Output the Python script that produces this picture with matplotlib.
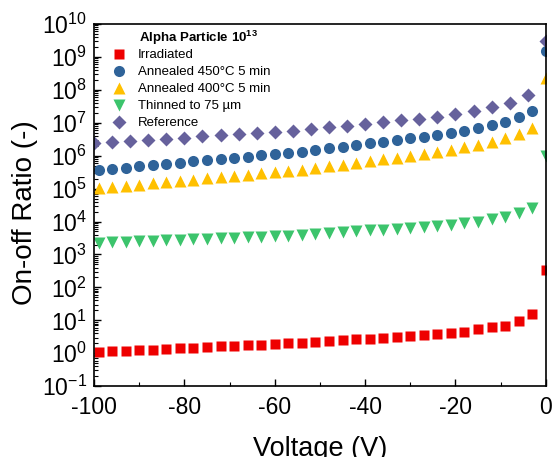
import matplotlib
matplotlib.use("Agg")
import matplotlib.pyplot as plt
from matplotlib.ticker import LogLocator, MultipleLocator, NullFormatter

plt.rcParams["font.family"] = ["Liberation Sans", "DejaVu Sans"]
plt.rcParams["mathtext.fontset"] = "custom"
plt.rcParams["mathtext.rm"] = "Liberation Sans"
plt.rcParams["mathtext.bf"] = "Liberation Sans:bold"
plt.rcParams["axes.unicode_minus"] = False

# voltages (V)
v_step3 = [-99, -96, -93, -90, -87, -84, -81, -78, -75, -72, -69, -66, -63, -60, -57,
           -54, -51, -48, -45, -42, -39, -36, -33, -30, -27, -24, -21, -18, -15, -12,
           -9, -6, -3, 0]
v_step4 = [-100, -96, -92, -88, -84, -80, -76, -72, -68, -64, -60, -56, -52, -48, -44,
           -40, -36, -32, -28, -24, -20, -16, -12, -8, -4, 0]

# on-off ratios
irradiated = [1.10, 1.15, 1.20, 1.26, 1.29, 1.35, 1.41, 1.48, 1.55, 1.62, 1.66, 1.74,
              1.82, 1.91, 2.00, 2.09, 2.19, 2.34, 2.45, 2.63, 2.75, 2.95, 3.09, 3.31,
              3.47, 3.72, 4.07, 4.57, 5.37, 6.17, 6.92, 9.55, 15.1, 339]
annealed_450 = [3.72e5, 4.07e5, 4.37e5, 4.79e5, 5.25e5, 5.62e5, 6.17e5, 6.76e5, 7.24e5,
                7.94e5, 8.71e5, 9.33e5, 1.02e6, 1.12e6, 1.20e6, 1.32e6, 1.48e6, 1.66e6,
                1.86e6, 2.09e6, 2.40e6, 2.69e6, 3.02e6, 3.39e6, 3.80e6, 4.27e6, 4.79e6,
                5.75e6, 7.08e6, 8.32e6, 1.05e7, 1.48e7, 2.29e7, 1.55e9]
annealed_400 = [1.02e5, 1.12e5, 1.20e5, 1.32e5, 1.45e5, 1.58e5, 1.70e5, 1.86e5, 2.04e5,
                2.24e5, 2.40e5, 2.63e5, 2.88e5, 3.16e5, 3.39e5, 3.72e5, 4.17e5, 4.79e5,
                5.37e5, 6.03e5, 6.92e5, 7.76e5, 8.71e5, 9.77e5, 1.12e6, 1.26e6, 1.48e6,
                1.78e6, 2.14e6, 2.57e6, 3.39e6, 4.57e6, 7.08e6, 2.24e8]
thinned = [2291, 2344, 2455, 2512, 2630, 2754, 2818, 2951, 3020, 3162, 3236, 3388, 3467,
           3631, 3715, 3890, 4169, 4365, 4677, 5012, 5370, 5623, 6026, 6457, 6761, 7244,
           7762, 8913, 9772, 11750, 14125, 17783, 25704, 977000]
reference = [2.40e6, 2.57e6, 2.82e6, 3.02e6, 3.31e6, 3.55e6, 3.89e6, 4.17e6, 4.57e6,
             4.90e6, 5.37e6, 5.75e6, 6.31e6, 7.24e6, 8.13e6, 9.33e6, 1.05e7, 1.20e7,
             1.32e7, 1.55e7, 1.82e7, 2.34e7, 2.95e7, 4.07e7, 6.92e7, 3.09e9]

labels = ["Irradiated", "Annealed 450\u00b0C 5 min", "Annealed 400\u00b0C 5 min",
          "Thinned to 75 \u00b5m", "Reference"]
colors = ["#ee0000", "#2f6399", "#ffc000", "#3cc46c", "#66619c"]

fig = plt.figure(figsize=(5.53, 4.57), dpi=100)
ax = fig.add_axes([0.170, 0.155, 0.817, 0.7925])

ax.plot(v_step3, irradiated, "s", color=colors[0], ms=7, mec="none", label=labels[0])
ax.plot(v_step3, annealed_450, "o", color=colors[1], ms=8, mec="none", label=labels[1])
ax.plot(v_step3, annealed_400, "^", color=colors[2], ms=9, mec="none", label=labels[2])
ax.plot(v_step3, thinned, "v", color=colors[3], ms=9, mec="none", label=labels[3])
ax.plot(v_step4, reference, "D", color=colors[4], ms=7.5, mec="none", label=labels[4])

ax.set_yscale("log")
ax.set_xlim(-100, 0)
ax.set_ylim(1e-1, 1e10)
ax.xaxis.set_major_locator(MultipleLocator(20))
ax.xaxis.set_minor_locator(MultipleLocator(10))
ax.yaxis.set_major_locator(LogLocator(base=10, numticks=20))
ax.yaxis.set_minor_locator(LogLocator(base=10, subs=range(2, 10), numticks=200))
ax.yaxis.set_minor_formatter(NullFormatter())
ax.tick_params(which="both", direction="in", top=False, right=False, labelsize=16.5)
ax.tick_params(which="major", length=5, width=1)
ax.tick_params(which="minor", length=3, width=0.8)
ax.tick_params(axis="x", pad=7)
ax.tick_params(axis="y", pad=5)
for s in ax.spines.values():
    s.set_linewidth(1.2)

ax.set_xlabel("Voltage (V)", fontsize=19.5, labelpad=12)
ax.set_ylabel("On-off Ratio (-)", fontsize=20)
ax.yaxis.set_label_coords(-0.125, 0.48)

leg = ax.legend(loc="upper left", bbox_to_anchor=(0.03, 0.945), frameon=False,
                fontsize=9.5, handlelength=1.0, handletextpad=0.9, labelspacing=0.36,
                borderaxespad=0)
ax.text(0.1, 0.962, r"Alpha Particle 10$^{\mathbf{13}}$", transform=ax.transAxes,
        fontsize=9.5, fontweight="bold", va="center", ha="left")

fig.savefig("out.png", dpi=100)
